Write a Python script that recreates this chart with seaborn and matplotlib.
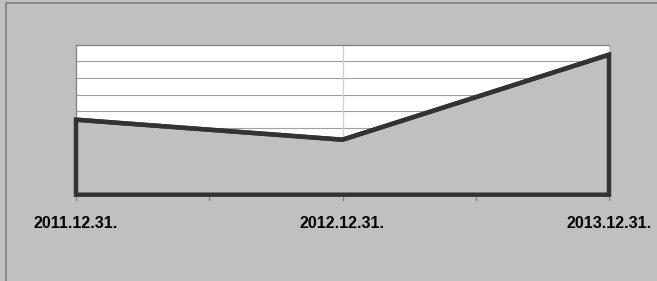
import matplotlib
matplotlib.use("Agg")
import matplotlib.pyplot as plt
import seaborn as sns
import pandas as pd
from matplotlib.patches import Rectangle

# chart data
dates = ["2011.12.31.", "2012.12.31.", "2013.12.31."]
values = [45, 33, 84]
positions = [0, 1, 2]

df = pd.DataFrame({"pos": positions, "value": values})

sns.set_style("white")
plt.rcParams["font.family"] = ["Liberation Sans Narrow", "Liberation Sans", "DejaVu Sans"]

bg = "#c0c0c0"
fig = plt.figure(figsize=(6.57, 2.81), dpi=100, facecolor=bg)
ax = fig.add_axes([76 / 657, 86.3 / 281, 533 / 657, 150 / 281])
ax.set_facecolor("white")

# gridlines
for v in range(10, 90, 10):
    ax.axhline(v, color="#a0a0a0", lw=0.8, zorder=1)
ax.axvline(1, color="#d0d0d0", lw=0.9, zorder=1)

# area + outline
ax.fill_between(df["pos"], df["value"], 0, facecolor=bg, edgecolor="none", zorder=2)
ax.fill_between(df["pos"], df["value"], 0, facecolor="none", edgecolor="#333333",
                lw=3.2, zorder=3, clip_on=False, joinstyle="miter")
sns.lineplot(data=df, x="pos", y="value", ax=ax, color="#333333", lw=3.2, zorder=4)

ax.set_xlim(0, 2)
ax.set_ylim(0, 90)
ax.set_xticks(positions)
ax.set_xticklabels(dates, fontsize=11.5, fontweight="bold", color="black")
ax.set_xticks([0.5, 1.5], minor=True)
ax.tick_params(axis="x", which="both", length=4, width=0.8, color="#808080",
               direction="out", pad=11, bottom=True)
ax.set_yticks([])
ax.set_xlabel("")
ax.set_ylabel("")

for s in ["right", "bottom"]:
    ax.spines[s].set_visible(False)
for s in ["top", "left"]:
    ax.spines[s].set_color("#808080")
    ax.spines[s].set_linewidth(0.9)

# chart frame
fig.patches.append(Rectangle((6 / 657, -0.1), 1.0, 1.1 - 3.5 / 281,
                             transform=fig.transFigure, facecolor="none",
                             edgecolor="#808080", lw=1.2))

fig.savefig("out.png", dpi=100, facecolor=bg)
